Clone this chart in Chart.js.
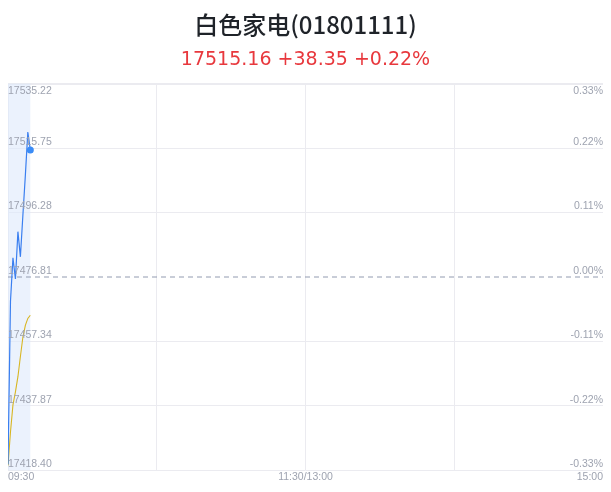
<!DOCTYPE html>
<html>
<head>
<meta charset="utf-8">
<script src="https://cdn.jsdelivr.net/npm/chart.js@4"></script>
<style>
  html, body { margin: 0; padding: 0; background: #fff; }
  #wrap { width: 611px; height: 492px; }
</style>
</head>
<body>
<div id="wrap"><canvas id="c" width="611" height="492"></canvas></div>
<script>
// ====================
// data
// ====================
const titleText = "白色家电(01801111)";
const quoteText = "17515.16 +38.35 +0.22%";
const prevClose = 17476.81;
// one value per minute from 09:30
const priceValues = [17420.2, 17469.5, 17482.6, 17476.2, 17490.5, 17482.9, 17495.4, 17507.5, 17520.6, 17515.16];
const avgValues   = [17419.9, 17430.0, 17438.2, 17442.1, 17446.7, 17452.8, 17458.6, 17462.2, 17464.3, 17465.25];
const yTicks   = [17418.40, 17437.87, 17457.34, 17476.81, 17496.28, 17515.75, 17535.22];
const pctTicks = ["-0.33%", "-0.22%", "-0.11%", "0.00%", "0.11%", "0.22%", "0.33%"];
const xTicks   = [0, 60, 120, 180, 240];
const xLabels  = { 0: "09:30", 120: "11:30/13:00", 240: "15:00" };

const labelFont = "10.5px 'Liberation Sans', Arial, sans-serif";
const labelColor = "#9ea3b0";
const gridColor = "#ebebf0";

// ====================
// plugins
// ====================
// light band behind the traded minutes
const bandPlugin = {
    id: "band",
    beforeDatasetsDraw(chart) {
        const { ctx, chartArea, scales } = chart;
        const x0 = scales.x.getPixelForValue(0);
        const x1 = scales.x.getPixelForValue(priceValues.length - 1);
        ctx.save();
        ctx.fillStyle = "rgba(222,233,252,0.6)";
        ctx.fillRect(x0, chartArea.top, x1 - x0, chartArea.bottom - chartArea.top);
        ctx.restore();
    }
};

// price labels on the left, percent labels on the right, inside the plot
const yLabelPlugin = {
    id: "ylabels",
    afterDraw(chart) {
        const { ctx, chartArea, scales } = chart;
        ctx.save();
        ctx.font = labelFont;
        ctx.fillStyle = labelColor;
        yTicks.forEach((v, i) => {
            let y = scales.y.getPixelForValue(v);
            if (i === yTicks.length - 1) { ctx.textBaseline = "top"; y += 2; }
            else { ctx.textBaseline = "bottom"; y -= 1; }
            ctx.textAlign = "left";
            ctx.fillText(v.toFixed(2), chartArea.left, y);
            ctx.textAlign = "right";
            ctx.fillText(pctTicks[i], chartArea.right, y);
        });
        ctx.restore();
    }
};

// ====================
// chart
// ====================
const toPoints = arr => arr.map((v, i) => ({ x: i, y: v }));

new Chart(document.getElementById("c"), {
    type: "line",
    data: {
        datasets: [
            {
                data: toPoints(priceValues),
                borderColor: "#3a7ff0",
                borderWidth: 1.2,
                pointRadius: priceValues.map((v, i) => i === priceValues.length - 1 ? 3.5 : 0),
                pointBackgroundColor: "#3b8cf6",
                pointBorderWidth: 0,
                tension: 0
            },
            {
                data: toPoints(avgValues),
                borderColor: "#d8b622",
                borderWidth: 1.1,
                pointRadius: 0,
                tension: 0
            },
            {
                data: [{ x: 0, y: prevClose }, { x: 240, y: prevClose }],
                borderColor: "#929bb0",
                borderWidth: 1,
                borderDash: [5, 4],
                pointRadius: 0
            }
        ]
    },
    options: {
        responsive: false,
        animation: false,
        events: [],
        layout: { padding: { left: 8, right: 8, top: 0, bottom: 9 } },
        plugins: {
            legend: { display: false },
            tooltip: { enabled: false },
            title: {
                display: true,
                text: titleText,
                color: "#1f2329",
                font: { family: "'Noto Sans CJK SC', sans-serif", size: 24, weight: "500" },
                padding: { top: 10, bottom: 4 }
            },
            subtitle: {
                display: true,
                text: quoteText,
                color: "#e8383d",
                font: { family: "'DejaVu Sans', sans-serif", size: 19, weight: "normal" },
                padding: { top: 6, bottom: 12 }
            }
        },
        scales: {
            x: {
                type: "linear",
                min: 0,
                max: 240,
                afterBuildTicks: s => { s.ticks = xTicks.map(v => ({ value: v })); },
                grid: {
                    color: c => c.tick && c.tick.value === 240 ? "rgba(0,0,0,0)" : gridColor,
                    drawTicks: false
                },
                border: { display: false },
                ticks: {
                    align: "inner",
                    padding: 0,
                    maxRotation: 0,
                    autoSkip: false,
                    color: labelColor,
                    font: { family: "'Liberation Sans', Arial, sans-serif", size: 10.5 },
                    callback: v => xLabels[v] || ""
                }
            },
            y: {
                min: yTicks[0],
                max: yTicks[yTicks.length - 1],
                afterBuildTicks: s => { s.ticks = yTicks.map(v => ({ value: v })); },
                grid: {
                    color: c => c.tick && c.tick.value === prevClose ? "rgba(0,0,0,0)" : gridColor,
                    lineWidth: c => c.tick && c.tick.value === yTicks[yTicks.length - 1] ? 2 : 1,
                    drawTicks: false
                },
                border: { display: false },
                ticks: { display: false }
            }
        }
    },
    plugins: [bandPlugin, yLabelPlugin]
});
</script>
</body>
</html>
